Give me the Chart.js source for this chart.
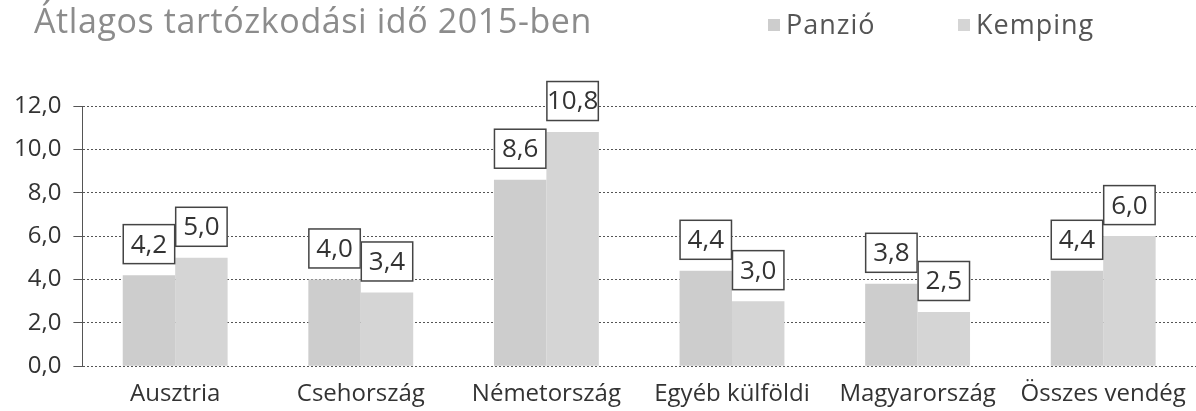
<!DOCTYPE html>
<html>
<head>
<meta charset="utf-8">
<script src="https://cdn.jsdelivr.net/npm/chart.js@4/dist/chart.umd.min.js"></script>
<style>
  html, body { margin: 0; padding: 0; background: #fff; overflow: hidden; }
  #wrap { position: relative; width: 1196px; height: 411px; }
  #title {
    position: absolute; left: 34px; top: -3px; margin: 0;
    font: 400 34px "Open Sans", sans-serif; letter-spacing: 0.6px; color: #8c8c8c; white-space: nowrap;
  }
  #legend {
    position: absolute; top: 5px; left: 768px;
    font: 400 27px "Open Sans", sans-serif; letter-spacing: 1px; color: #555; white-space: nowrap;
  }
  #legend span.item { position: absolute; top: 0; }
  #legend span.box {
    display: inline-block; width: 12px; height: 12px; margin-right: 6px; vertical-align: 3px;
  }
</style>
</head>
<body>
<div id="wrap">
  <canvas id="chart" width="1196" height="411"></canvas>
  <h1 id="title">Átlagos tartózkodási idő 2015-ben</h1>
  <div id="legend"></div>
</div>
<script>
const categories = ['Ausztria', 'Csehország', 'Németország', 'Egyéb külföldi', 'Magyarország', 'Összes vendég'];
const seriesNames = ['Panzió', 'Kemping'];
const panzio = [4.2, 4.0, 8.6, 4.4, 3.8, 4.4];
const kemping = [5.0, 3.4, 10.8, 3.0, 2.5, 6.0];
const seriesColors = ['#cdcdcd', '#d5d5d5'];

function fmt(v) {
  return v.toFixed(1).replace('.', ',');
}

// boxed value labels above each bar
const boxLabels = {
  id: 'boxLabels',
  afterDatasetsDraw(chart) {
    const ctx = chart.ctx;
    ctx.save();
    ctx.font = '26px "Open Sans", sans-serif';
    ctx.textAlign = 'center';
    ctx.textBaseline = 'middle';
    chart.data.datasets.forEach((ds, i) => {
      chart.getDatasetMeta(i).data.forEach((bar, j) => {
        const w = bar.width;
        const h = 40;
        const x = bar.x - w / 2;
        const y = bar.y - 11 - h;
        ctx.fillStyle = '#fff';
        ctx.fillRect(x, y, w, h);
        ctx.strokeStyle = '#444';
        ctx.lineWidth = 1.5;
        ctx.strokeRect(x + 0.5, y + 0.5, w - 1, h - 1);
        ctx.fillStyle = '#333';
        ctx.fillText(fmt(ds.data[j]), bar.x, y + h / 2 + 1);
      });
    });
    ctx.restore();
  }
};

new Chart(document.getElementById('chart'), {
  type: 'bar',
  data: {
    labels: categories,
    datasets: [
      { label: seriesNames[0], data: panzio, backgroundColor: seriesColors[0] },
      { label: seriesNames[1], data: kemping, backgroundColor: seriesColors[1] }
    ]
  },
  options: {
    responsive: false,
    animation: false,
    layout: { padding: { top: 106, right: 0, left: 2, bottom: -4 } },
    datasets: {
      bar: { barPercentage: 1, categoryPercentage: 0.565 }
    },
    scales: {
      x: {
        grid: { display: false },
        border: { display: false },
        ticks: {
          color: '#333',
          font: { family: 'Open Sans', size: 24 },
          padding: 6,
          maxRotation: 0,
          autoSkip: false
        }
      },
      y: {
        min: 0,
        max: 12,
        ticks: {
          stepSize: 2,
          color: '#333',
          font: { family: 'Open Sans', size: 24 },
          padding: 12,
          callback: (v) => fmt(v)
        },
        grid: { color: '#555', lineWidth: 1, tickLength: 9, drawTicks: true },
        border: { display: true, color: '#555', dash: [2, 2] }
      }
    },
    plugins: {
      legend: { display: false },
      tooltip: { enabled: false },
      title: { display: false }
    }
  },
  plugins: [boxLabels]
});

// legend as html
const legend = document.getElementById('legend');
const offsets = [0, 190];
seriesNames.forEach((name, i) => {
  const item = document.createElement('span');
  item.className = 'item';
  item.style.left = offsets[i] + 'px';
  item.innerHTML = `<span class="box" style="background:${seriesColors[i]}"></span>${name}`;
  legend.appendChild(item);
});
</script>
</body>
</html>
